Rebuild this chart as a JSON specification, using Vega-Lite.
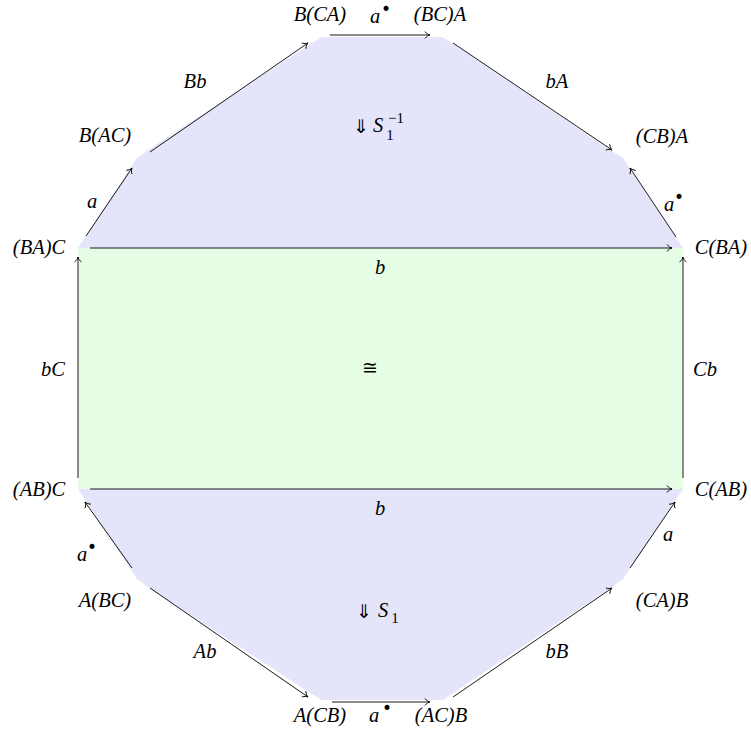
{
  "$schema": "https://vega.github.io/schema/vega-lite/v6.json",
  "width": 751,
  "height": 735,
  "autosize": {"type": "fit", "contains": "padding"},
  "padding": 0,
  "background": "white",
  "config": {"view": {"stroke": null}},
  "datasets": {
    "upper": [
      {"x": 78, "y": 248, "yb": 248},
      {"x": 137, "y": 158, "yb": 248},
      {"x": 148, "y": 150, "yb": 248},
      {"x": 312, "y": 43, "yb": 248},
      {"x": 322, "y": 37, "yb": 248},
      {"x": 442, "y": 37, "yb": 248},
      {"x": 452, "y": 43, "yb": 248},
      {"x": 610, "y": 150, "yb": 248},
      {"x": 623, "y": 158, "yb": 248},
      {"x": 683, "y": 248, "yb": 248}
    ],
    "lower": [
      {"x": 78, "y": 489, "yb": 489},
      {"x": 137, "y": 579, "yb": 489},
      {"x": 148, "y": 587, "yb": 489},
      {"x": 310, "y": 693, "yb": 489},
      {"x": 322, "y": 700, "yb": 489},
      {"x": 443, "y": 700, "yb": 489},
      {"x": 453, "y": 693, "yb": 489},
      {"x": 612, "y": 587, "yb": 489},
      {"x": 623, "y": 579, "yb": 489},
      {"x": 683, "y": 489, "yb": 489}
    ],
    "mid": [
      {"x": 78, "xe": 683, "y": 248, "ye": 489}
    ],
    "arrows": [
      {"name": "top a", "x": 330, "y": 35, "xe": 430, "ye": 35},
      {"name": "Bb", "x": 150, "y": 152, "xe": 308, "ye": 43},
      {"name": "bA", "x": 453, "y": 43, "xe": 612, "ye": 150},
      {"name": "a left", "x": 86, "y": 236, "xe": 132, "ye": 168},
      {"name": "a right", "x": 676, "y": 237, "xe": 630, "ye": 168},
      {"name": "b top", "x": 90, "y": 248, "xe": 672, "ye": 248},
      {"name": "bC", "x": 78, "y": 478, "xe": 78, "ye": 257},
      {"name": "Cb", "x": 683, "y": 478, "xe": 683, "ye": 257},
      {"name": "b bottom", "x": 90, "y": 489, "xe": 672, "ye": 489},
      {"name": "a lower left", "x": 132, "y": 568, "xe": 85, "ye": 502},
      {"name": "a lower right", "x": 630, "y": 568, "xe": 675, "ye": 502},
      {"name": "Ab", "x": 150, "y": 588, "xe": 308, "ye": 697},
      {"name": "bB", "x": 453, "y": 697, "xe": 612, "ye": 588},
      {"name": "bottom a", "x": 332, "y": 702, "xe": 430, "ye": 702}
    ],
    "labels": [
      {"t": "B(CA)", "x": 320, "y": 15, "k": "m"},
      {"t": "(BC)A", "x": 440, "y": 15, "k": "m"},
      {"t": "B(AC)", "x": 105, "y": 136, "k": "m"},
      {"t": "(CB)A", "x": 662, "y": 137, "k": "m"},
      {"t": "(BA)C", "x": 39, "y": 248, "k": "m"},
      {"t": "C(BA)", "x": 721, "y": 248, "k": "m"},
      {"t": "(AB)C", "x": 39, "y": 490, "k": "m"},
      {"t": "C(AB)", "x": 721, "y": 490, "k": "m"},
      {"t": "A(BC)", "x": 105, "y": 601, "k": "m"},
      {"t": "(CA)B", "x": 662, "y": 601, "k": "m"},
      {"t": "A(CB)", "x": 320, "y": 716, "k": "m"},
      {"t": "(AC)B", "x": 441, "y": 716, "k": "m"},
      {"t": "a", "x": 375, "y": 17, "k": "m"},
      {"t": "•", "x": 386, "y": 10, "k": "s"},
      {"t": "Bb", "x": 195, "y": 82, "k": "m"},
      {"t": "bA", "x": 557, "y": 82, "k": "m"},
      {"t": "a", "x": 92, "y": 202, "k": "m"},
      {"t": "a", "x": 669, "y": 205, "k": "m"},
      {"t": "•", "x": 679, "y": 198, "k": "s"},
      {"t": "b", "x": 380, "y": 268, "k": "m"},
      {"t": "b", "x": 380, "y": 509, "k": "m"},
      {"t": "bC", "x": 53, "y": 370, "k": "m"},
      {"t": "Cb", "x": 705, "y": 370, "k": "m"},
      {"t": "≅", "x": 370, "y": 368, "k": "u"},
      {"t": "a", "x": 82, "y": 555, "k": "m"},
      {"t": "•", "x": 92, "y": 548, "k": "s"},
      {"t": "a", "x": 668, "y": 535, "k": "m"},
      {"t": "Ab", "x": 205, "y": 652, "k": "m"},
      {"t": "bB", "x": 557, "y": 652, "k": "m"},
      {"t": "a", "x": 374, "y": 716, "k": "m"},
      {"t": "•", "x": 387, "y": 709, "k": "s"},
      {"t": "⇓", "x": 361, "y": 127, "k": "u"},
      {"t": "S", "x": 378, "y": 126, "k": "m"},
      {"t": "−1", "x": 396, "y": 118, "k": "d"},
      {"t": "1", "x": 390, "y": 135, "k": "d"},
      {"t": "⇓", "x": 364, "y": 612, "k": "u"},
      {"t": "S", "x": 383, "y": 611, "k": "m"},
      {"t": "1", "x": 395, "y": 618, "k": "d"}
    ]
  },
  "layer": [
    {
      "data": {"name": "upper"},
      "mark": {"type": "area", "color": "#e4e4fb", "opacity": 1},
      "encoding": {
        "x": {"field": "x", "type": "quantitative", "scale": {"domain": [0, 751], "nice": false, "zero": false}, "axis": null},
        "y": {"field": "y", "type": "quantitative", "scale": {"domain": [0, 735], "reverse": true, "nice": false, "zero": false}, "axis": null},
        "y2": {"field": "yb"}
      }
    },
    {
      "data": {"name": "lower"},
      "mark": {"type": "area", "color": "#e4e4fb", "opacity": 1},
      "encoding": {
        "x": {"field": "x", "type": "quantitative"},
        "y": {"field": "y", "type": "quantitative"},
        "y2": {"field": "yb"}
      }
    },
    {
      "data": {"name": "mid"},
      "mark": {"type": "rect", "color": "#e5fde5", "opacity": 1},
      "encoding": {
        "x": {"field": "x", "type": "quantitative"},
        "x2": {"field": "xe"},
        "y": {"field": "y", "type": "quantitative"},
        "y2": {"field": "ye"}
      }
    },
    {
      "data": {"name": "arrows"},
      "mark": {"type": "rule", "color": "#000000", "strokeWidth": 0.9},
      "encoding": {
        "x": {"field": "x", "type": "quantitative"},
        "y": {"field": "y", "type": "quantitative"},
        "x2": {"field": "xe"},
        "y2": {"field": "ye"}
      }
    },
    {
      "data": {"name": "arrows"},
      "transform": [{"calculate": "atan2(datum.ye - datum.y, datum.xe - datum.x) * 180 / PI", "as": "ang"}],
      "mark": {"type": "point", "shape": "M -1.6 -1.1 C -1.1 -0.4 -0.4 -0.1 0 0 C -0.4 0.1 -1.1 0.4 -1.6 1.1", "filled": false, "stroke": "#000000", "strokeWidth": 0.9, "size": 40, "opacity": 1},
      "encoding": {
        "x": {"field": "xe", "type": "quantitative"},
        "y": {"field": "ye", "type": "quantitative"},
        "angle": {"field": "ang", "type": "quantitative", "scale": null}
      }
    },
    {
      "data": {"name": "labels"},
      "transform": [{"filter": "datum.k === 'm'"}],
      "mark": {"type": "text", "font": "Liberation Serif", "fontStyle": "italic", "fontSize": 20.5, "align": "center", "baseline": "middle", "color": "#000000"},
      "encoding": {
        "x": {"field": "x", "type": "quantitative"},
        "y": {"field": "y", "type": "quantitative"},
        "text": {"field": "t"}
      }
    },
    {
      "data": {"name": "labels"},
      "transform": [{"filter": "datum.k === 's'"}],
      "mark": {"type": "text", "font": "DejaVu Sans", "fontSize": 17, "align": "center", "baseline": "middle", "color": "#000000"},
      "encoding": {
        "x": {"field": "x", "type": "quantitative"},
        "y": {"field": "y", "type": "quantitative"},
        "text": {"field": "t"}
      }
    },
    {
      "data": {"name": "labels"},
      "transform": [{"filter": "datum.k === 'd'"}],
      "mark": {"type": "text", "font": "Liberation Serif", "fontSize": 15, "align": "center", "baseline": "middle", "color": "#000000"},
      "encoding": {
        "x": {"field": "x", "type": "quantitative"},
        "y": {"field": "y", "type": "quantitative"},
        "text": {"field": "t"}
      }
    },
    {
      "data": {"name": "labels"},
      "transform": [{"filter": "datum.k === 'u'"}],
      "mark": {"type": "text", "font": "DejaVu Sans", "fontSize": 19, "align": "center", "baseline": "middle", "color": "#000000"},
      "encoding": {
        "x": {"field": "x", "type": "quantitative"},
        "y": {"field": "y", "type": "quantitative"},
        "text": {"field": "t"}
      }
    }
  ]
}
